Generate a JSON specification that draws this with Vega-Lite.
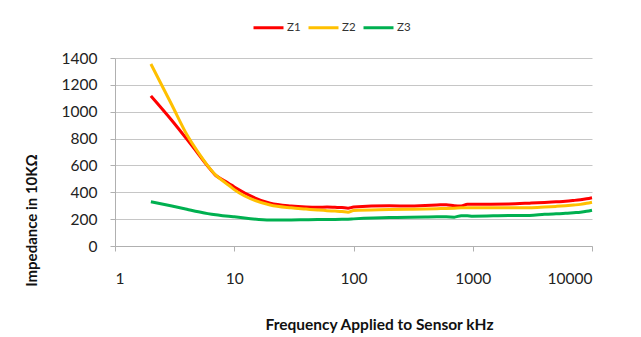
{
  "$schema": "https://vega.github.io/schema/vega-lite/v6.json",
  "width": 477,
  "height": 188,
  "autosize": {"type": "none"},
  "padding": {"left": 115, "top": 58, "right": 49, "bottom": 91},
  "background": "white",
  "config": {
    "view": {"stroke": null},
    "font": "Lato",
    "axis": {"labelFont": "Lato", "titleFont": "Lato", "labelColor": "#222", "titleColor": "#111", "domainColor": "#b0b0b0", "tickColor": "#b0b0b0", "gridColor": "#c6c6c6", "gridWidth": 1}
  },
  "data": {
    "values": [
      {"f": 2, "Z1": 1118, "Z2": 1355, "Z3": 330},
      {"f": 3, "Z1": 935, "Z2": 1050, "Z3": 298},
      {"f": 4, "Z1": 796, "Z2": 830, "Z3": 274},
      {"f": 5, "Z1": 685, "Z2": 695, "Z3": 255},
      {"f": 6, "Z1": 594, "Z2": 597, "Z3": 241},
      {"f": 7, "Z1": 525, "Z2": 528, "Z3": 232},
      {"f": 8, "Z1": 493, "Z2": 486, "Z3": 226},
      {"f": 9, "Z1": 466, "Z2": 452, "Z3": 221},
      {"f": 10, "Z1": 440, "Z2": 420, "Z3": 217},
      {"f": 20, "Z1": 318, "Z2": 305, "Z3": 194},
      {"f": 30, "Z1": 297, "Z2": 284, "Z3": 194},
      {"f": 40, "Z1": 290, "Z2": 275, "Z3": 196},
      {"f": 50, "Z1": 288, "Z2": 268, "Z3": 197},
      {"f": 60, "Z1": 290, "Z2": 263, "Z3": 197},
      {"f": 70, "Z1": 288, "Z2": 260, "Z3": 198},
      {"f": 80, "Z1": 286, "Z2": 257, "Z3": 199},
      {"f": 90, "Z1": 282, "Z2": 252, "Z3": 200},
      {"f": 100, "Z1": 290, "Z2": 265, "Z3": 202},
      {"f": 200, "Z1": 300, "Z2": 271, "Z3": 212},
      {"f": 300, "Z1": 297, "Z2": 274, "Z3": 214},
      {"f": 400, "Z1": 302, "Z2": 276, "Z3": 216},
      {"f": 500, "Z1": 305, "Z2": 278, "Z3": 217},
      {"f": 600, "Z1": 308, "Z2": 280, "Z3": 217},
      {"f": 700, "Z1": 300, "Z2": 282, "Z3": 215},
      {"f": 800, "Z1": 298, "Z2": 284, "Z3": 226},
      {"f": 900, "Z1": 310, "Z2": 285, "Z3": 225},
      {"f": 1000, "Z1": 310, "Z2": 285, "Z3": 222},
      {"f": 2000, "Z1": 313, "Z2": 285, "Z3": 227},
      {"f": 3000, "Z1": 319, "Z2": 285, "Z3": 228},
      {"f": 4000, "Z1": 324, "Z2": 290, "Z3": 236},
      {"f": 5000, "Z1": 329, "Z2": 295, "Z3": 240},
      {"f": 6000, "Z1": 333, "Z2": 300, "Z3": 243},
      {"f": 7000, "Z1": 339, "Z2": 305, "Z3": 248},
      {"f": 8000, "Z1": 345, "Z2": 310, "Z3": 252},
      {"f": 9000, "Z1": 352, "Z2": 318, "Z3": 258},
      {"f": 10000, "Z1": 360, "Z2": 326, "Z3": 266}
    ]
  },
  "transform": [{"fold": ["Z1", "Z2", "Z3"], "as": ["series", "value"]}],
  "mark": {"type": "line", "strokeWidth": 3, "interpolate": "monotone"},
  "encoding": {
    "x": {
      "field": "f", "type": "quantitative",
      "scale": {"type": "log", "domain": [1, 10000]},
      "axis": {
        "values": [1, 10, 100, 1000, 10000], "format": "d", "grid": false,
        "tickSize": 5, "labelFontSize": 15.5, "labelBaseline": "alphabetic", "labelPadding": 32,
        "title": "Frequency Applied to Sensor kHz", "titleFontSize": 15.5, "titleFontWeight": "bold",
        "titleX": 264, "titleY": 78, "titleBaseline": "middle", "titleAlign": "center"
      }
    },
    "y": {
      "field": "value", "type": "quantitative",
      "scale": {"domain": [0, 1400], "nice": false},
      "axis": {
        "values": [0, 200, 400, 600, 800, 1000, 1200, 1400], "format": "d",
        "tickSize": 5, "labelFontSize": 15.5, "labelPadding": 13,
        "title": "Impedance in 10KΩ", "titleFontSize": 15, "titleFontWeight": "bold",
        "titleAngle": -90, "titleX": -84, "titleY": 162, "titleBaseline": "middle", "titleAlign": "center"
      }
    },
    "color": {
      "field": "series", "type": "nominal",
      "scale": {"domain": ["Z1", "Z2", "Z3"], "range": ["#ff0000", "#ffc000", "#00b050"]},
      "legend": {
        "orient": "none", "direction": "horizontal", "legendX": 137, "legendY": -47,
        "title": null, "symbolType": "stroke", "symbolSize": 900, "symbolStrokeWidth": 3,
        "labelFontSize": 11.5, "labelColor": "#333", "labelOffset": 2, "columnPadding": 1
      }
    }
  }
}
